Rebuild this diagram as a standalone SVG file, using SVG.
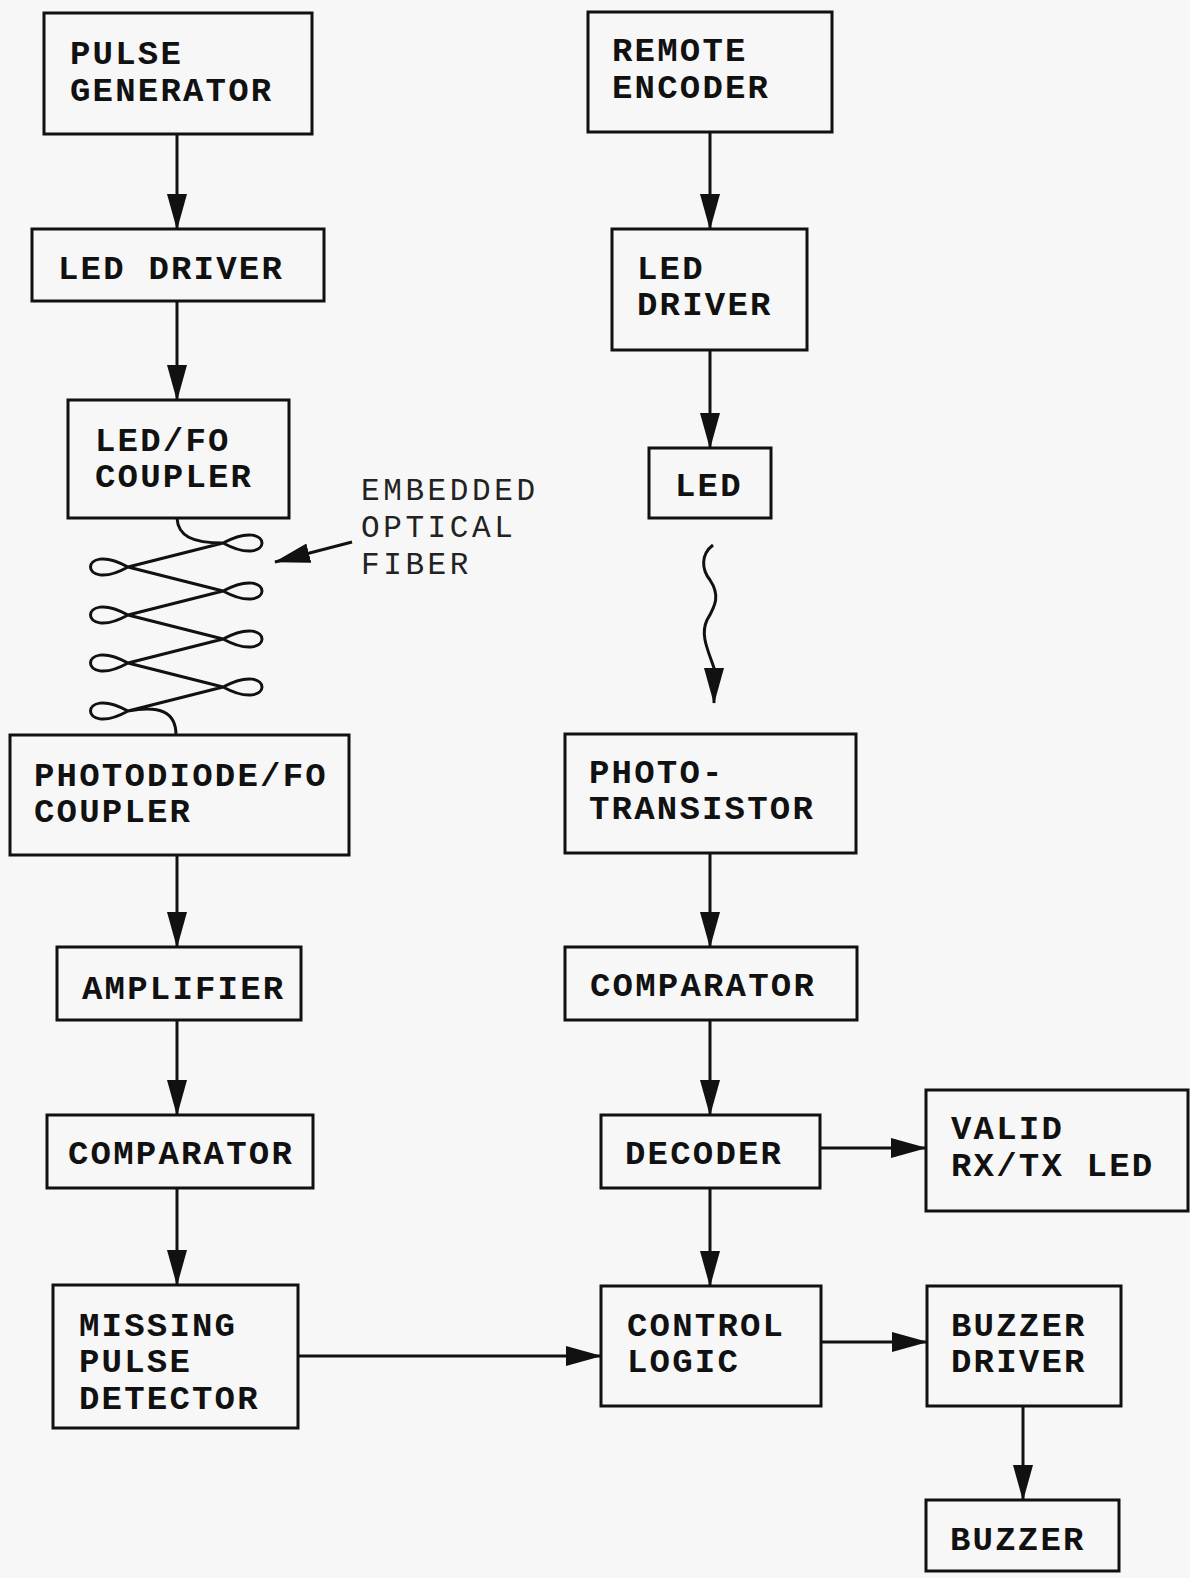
<svg xmlns="http://www.w3.org/2000/svg" width="1190" height="1578" viewBox="0 0 1190 1578">
<style>
.box{fill:none;stroke:#111;stroke-width:3}
.t{font-family:"Liberation Mono","DejaVu Sans Mono",monospace;font-weight:bold;font-size:34px;letter-spacing:2.2px;fill:#111}
.n{font-family:"Liberation Mono","DejaVu Sans Mono",monospace;font-size:31px;letter-spacing:3.6px;fill:#222}
.c{fill:none;stroke:#111;stroke-width:3}
.f{fill:none;stroke:#111;stroke-width:3;stroke-linejoin:round}
</style>
<defs>
<marker id="ah" viewBox="0 0 36 20" refX="35" refY="10" markerWidth="36" markerHeight="20" markerUnits="userSpaceOnUse" orient="auto">
<path d="M0,0 L36,10 L0,20 z" fill="#111"/>
</marker>
</defs>
<rect width="1190" height="1578" fill="#f7f7f7"/>

<g id="pulse-generator"><rect class="box" x="44" y="13" width="268" height="121"/><text class="t" x="70" y="64">PULSE</text><text class="t" x="70" y="101">GENERATOR</text></g>
<g id="led-driver-1"><rect class="box" x="32" y="229" width="292" height="72"/><text class="t" x="58" y="279">LED DRIVER</text></g>
<g id="led-fo-coupler"><rect class="box" x="68" y="400" width="221" height="118"/><text class="t" x="95" y="451">LED/FO</text><text class="t" x="95" y="487">COUPLER</text></g>
<g id="photodiode-fo-coupler"><rect class="box" x="10" y="735" width="339" height="120"/><text class="t" x="34" y="786">PHOTODIODE/FO</text><text class="t" x="34" y="822">COUPLER</text></g>
<g id="amplifier"><rect class="box" x="57" y="947" width="244" height="73"/><text class="t" x="82" y="999">AMPLIFIER</text></g>
<g id="comparator-1"><rect class="box" x="47" y="1115" width="266" height="73"/><text class="t" x="68" y="1164">COMPARATOR</text></g>
<g id="missing-pulse-detector"><rect class="box" x="53" y="1285" width="245" height="143"/><text class="t" x="79" y="1336">MISSING</text><text class="t" x="79" y="1372">PULSE</text><text class="t" x="79" y="1409">DETECTOR</text></g>

<g id="remote-encoder"><rect class="box" x="588" y="12" width="244" height="120"/><text class="t" x="612" y="61">REMOTE</text><text class="t" x="612" y="98">ENCODER</text></g>
<g id="led-driver-2"><rect class="box" x="612" y="229" width="195" height="121"/><text class="t" x="637" y="279">LED</text><text class="t" x="637" y="315">DRIVER</text></g>
<g id="led"><rect class="box" x="649" y="448" width="122" height="70"/><text class="t" x="675" y="496">LED</text></g>
<g id="phototransistor"><rect class="box" x="565" y="734" width="291" height="119"/><text class="t" x="589" y="783">PHOTO-</text><text class="t" x="589" y="819">TRANSISTOR</text></g>
<g id="comparator-2"><rect class="box" x="565" y="947" width="292" height="73"/><text class="t" x="590" y="996">COMPARATOR</text></g>
<g id="decoder"><rect class="box" x="601" y="1115" width="219" height="73"/><text class="t" x="625" y="1164">DECODER</text></g>
<g id="valid-led"><rect class="box" x="926" y="1090" width="262" height="121"/><text class="t" x="951" y="1139">VALID</text><text class="t" x="951" y="1176">RX/TX LED</text></g>
<g id="control-logic"><rect class="box" x="601" y="1286" width="220" height="120"/><text class="t" x="627" y="1336">CONTROL</text><text class="t" x="627" y="1372">LOGIC</text></g>
<g id="buzzer-driver"><rect class="box" x="927" y="1286" width="194" height="120"/><text class="t" x="951" y="1336">BUZZER</text><text class="t" x="951" y="1372">DRIVER</text></g>
<g id="buzzer"><rect class="box" x="926" y="1500" width="193" height="71"/><text class="t" x="950" y="1550">BUZZER</text></g>

<g id="fiber">
<path class="f" d="M177,518 C178,536 192,543 223,543 C275,571 275,515 223,543 L128,567 C78,595 78,539 128,567 L223,591 C275,619 275,563 223,591 L128,615 C78,643 78,587 128,615 L223,639 C275,667 275,611 223,639 L128,663 C78,691 78,635 128,663 L223,687 C275,715 275,659 223,687 L128,711 C78,739 78,683 128,711 C160,705 176,712 176,735"/>
<text class="n" x="361" y="500">EMBEDDED</text><text class="n" x="361" y="537">OPTICAL</text><text class="n" x="361" y="574">FIBER</text>
</g>

<g id="connectors">
<line class="c" x1="177" y1="134" x2="177" y2="229" marker-end="url(#ah)"/>
<line class="c" x1="177" y1="301" x2="177" y2="400" marker-end="url(#ah)"/>
<line class="c" x1="177" y1="855" x2="177" y2="947" marker-end="url(#ah)"/>
<line class="c" x1="177" y1="1020" x2="177" y2="1115" marker-end="url(#ah)"/>
<line class="c" x1="177" y1="1188" x2="177" y2="1285" marker-end="url(#ah)"/>
<line class="c" x1="298" y1="1356" x2="601" y2="1356" marker-end="url(#ah)"/>
<line class="c" x1="352" y1="542" x2="275" y2="562" marker-end="url(#ah)"/>
<line class="c" x1="710" y1="132" x2="710" y2="229" marker-end="url(#ah)"/>
<line class="c" x1="710" y1="350" x2="710" y2="448" marker-end="url(#ah)"/>
<path class="c" d="M713,545 C700,555 702,570 710,580 C720,595 716,605 707,620 C700,635 708,650 714,668 L714,703" marker-end="url(#ah)"/>
<line class="c" x1="710" y1="853" x2="710" y2="947" marker-end="url(#ah)"/>
<line class="c" x1="710" y1="1020" x2="710" y2="1115" marker-end="url(#ah)"/>
<line class="c" x1="710" y1="1188" x2="710" y2="1286" marker-end="url(#ah)"/>
<line class="c" x1="820" y1="1148" x2="926" y2="1148" marker-end="url(#ah)"/>
<line class="c" x1="821" y1="1342" x2="927" y2="1342" marker-end="url(#ah)"/>
<line class="c" x1="1023" y1="1406" x2="1023" y2="1500" marker-end="url(#ah)"/>
</g>
</svg>
